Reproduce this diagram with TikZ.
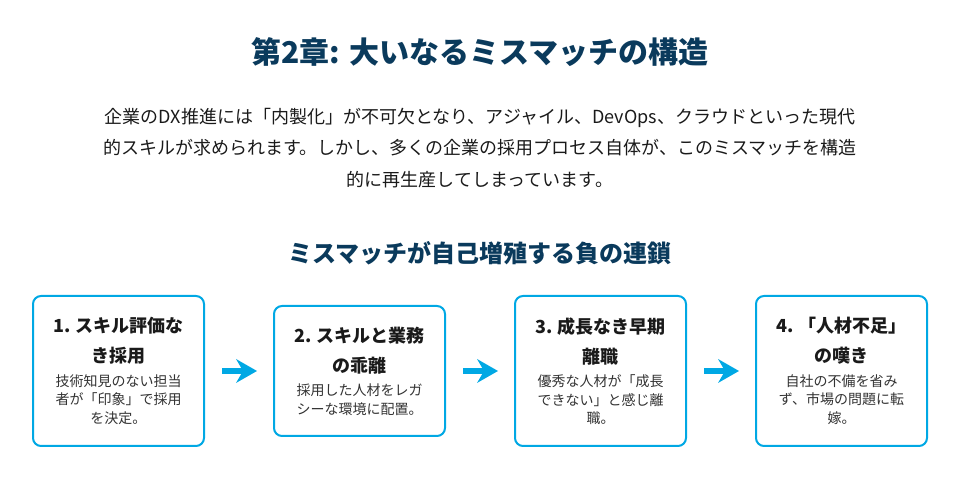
\documentclass[tikz,border=0pt]{standalone}
\usepackage{fontspec}
\setmainfont{Noto Sans CJK JP}
\usepackage{tikz}
\usetikzlibrary{positioning}
\usetikzlibrary{arrows.meta}

\definecolor{navy}{RGB}{10,58,92}
\definecolor{sky}{RGB}{0,168,228}
\definecolor{ink}{RGB}{26,26,26}
\definecolor{body}{RGB}{51,51,51}

\tikzset{
  chainbox/.style={draw=sky, line width=2pt, rounded corners=8pt,
                   fill=white, inner sep=10.5pt, outer sep=0pt, text width=150pt,
                   align=center, minimum height=150pt},
  flowarrow/.style={color=sky, line width=6pt,
                    -{Stealth[length=21pt,width=24pt,inset=7pt,line width=0pt]},
                    shorten <=18pt, shorten >=17pt}
}
\newcommand{\boxhead}[1]{{\fontsize{18}{30}\selectfont\bfseries\color{ink}#1\par}\vskip5pt}
\newcommand{\boxbody}[1]{{\fontsize{14}{18.5}\selectfont\color{body}#1\par}}

\begin{document}
\begin{tikzpicture}[x=1pt,y=1pt]
\useasboundingbox (0,0) rectangle (964,481);

\node (title) at (480,429) [font=\fontsize{30}{36}\selectfont\bfseries, text=navy]
  {第2章: 大いなるミスマッチの構造};
\node (lead) at (480,333) [font=\fontsize{18}{31.5}\selectfont, text=ink, align=center]
  {企業のDX推進には「内製化」が不可欠となり、アジャイル、DevOps、クラウドといった現代\\
   的スキルが求められます。しかし、多くの企業の採用プロセス自体が、このミスマッチを構造\\
   的に再生産してしまっています。};
\node (chain) at (480,228) [font=\fontsize{24}{30}\selectfont\bfseries, text=navy]
  {ミスマッチが自己増殖する負の連鎖};

\node[chainbox] (b1) at (118.5,110)
  {\boxhead{1. スキル評価な\\き採用}\boxbody{技術知見のない担当\\者が「印象」で採用\\を決定。}};
\node[chainbox, minimum height=130pt, right=70pt of b1] (b2)
  {\boxhead{2. スキルと業務\\の乖離}\boxbody{採用した人材をレガ\\シーな環境に配置。}};
\node[chainbox, right=70pt of b2] (b3)
  {\boxhead{3. 成長なき早期\\離職}\boxbody{優秀な人材が「成長\\できない」と感じ離\\職。}};
\node[chainbox, right=70pt of b3] (b4)
  {\boxhead{4. 「人材不足」\\の嘆き}\boxbody{自社の不備を省み\\ず、市場の問題に転\\嫁。}};

\path[flowarrow]
  (b1) edge (b2)
  (b2) edge (b3)
  (b3) edge (b4)
  ;
\end{tikzpicture}
\end{document}
